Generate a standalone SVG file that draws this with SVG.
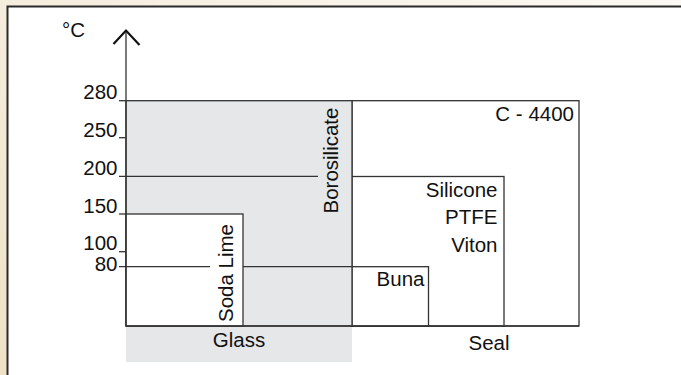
<svg xmlns="http://www.w3.org/2000/svg" width="681" height="375" viewBox="0 0 681 375">
<defs>
<linearGradient id="bg" x1="1" y1="0" x2="0" y2="1">
<stop offset="0" stop-color="#fcf9f4"/>
<stop offset="1" stop-color="#eee1c6"/>
</linearGradient>
<style>
.ln{stroke:#333;stroke-width:1.3;fill:none}
.bx{stroke:#333;stroke-width:1.3}
.t{font-family:"Liberation Sans",Arial,sans-serif;font-size:20.5px;fill:#111}
.r{text-anchor:end}
.m{text-anchor:middle}
</style>
</defs>
<rect x="0" y="0" width="681" height="375" fill="url(#bg)"/>
<rect x="7.5" y="6.5" width="680" height="375" fill="#fff" stroke="#2a2a2a" stroke-width="2"/>

<g id="glass-band">
<rect x="126" y="326" width="226" height="36" fill="#e6e7e9"/>
<text class="t m" x="239" y="347">Glass</text>
</g>

<g id="c4400">
<rect class="bx" x="352" y="100.7" width="227" height="225.3" fill="#fff"/>
<text class="t r" x="574" y="120.5">C - 4400</text>
</g>

<g id="silicone">
<rect class="bx" x="352" y="176.5" width="152" height="149.5" fill="#fff"/>
<text class="t r" x="497.5" y="196.5">Silicone</text>
<text class="t r" x="497.5" y="224">PTFE</text>
<text class="t r" x="497.5" y="251.5">Viton</text>
</g>

<g id="buna">
<rect class="bx" x="352" y="266.7" width="76.5" height="59.3" fill="#fff"/>
<text class="t r" x="424.5" y="285.5">Buna</text>
</g>

<g id="borosilicate">
<rect class="bx" x="126" y="100.7" width="226" height="225.3" fill="#e6e7e9"/>
<text class="t" transform="translate(337.5,213.5) rotate(-90)">Borosilicate</text>
</g>

<g id="soda-lime">
<rect class="bx" x="126" y="214" width="117" height="112" fill="#fff"/>
<text class="t" transform="translate(233,322) rotate(-90)">Soda Lime</text>
</g>

<g id="connectors">
<line class="ln" x1="119" y1="100.7" x2="126" y2="100.7"/>
<line class="ln" x1="119" y1="137.7" x2="126" y2="137.7"/>
<line class="ln" x1="119" y1="176.3" x2="318" y2="176.3"/>
<line class="ln" x1="119" y1="214" x2="126" y2="214"/>
<line class="ln" x1="119" y1="251.7" x2="126" y2="251.7"/>
<line class="ln" x1="119" y1="266.7" x2="210" y2="266.7"/>
<line class="ln" x1="243" y1="266.7" x2="352" y2="266.7"/>
<line class="ln" x1="126" y1="31" x2="126" y2="326"/>
<line class="ln" x1="126" y1="326" x2="579" y2="326"/>
<polyline points="113.5,44 126,30.5 139.5,45" fill="none" stroke="#111" stroke-width="2.2"/>
</g>

<g id="axis-labels">
<text class="t" x="62" y="37">°C</text>
<text class="t r" x="117.5" y="98.5">280</text>
<text class="t r" x="117.5" y="137">250</text>
<text class="t r" x="117.5" y="175">200</text>
<text class="t r" x="117.5" y="212.5">150</text>
<text class="t r" x="117.5" y="249.5">100</text>
<text class="t r" x="117.5" y="271">80</text>
<text class="t m" x="489" y="349.5">Seal</text>
</g>
</svg>
